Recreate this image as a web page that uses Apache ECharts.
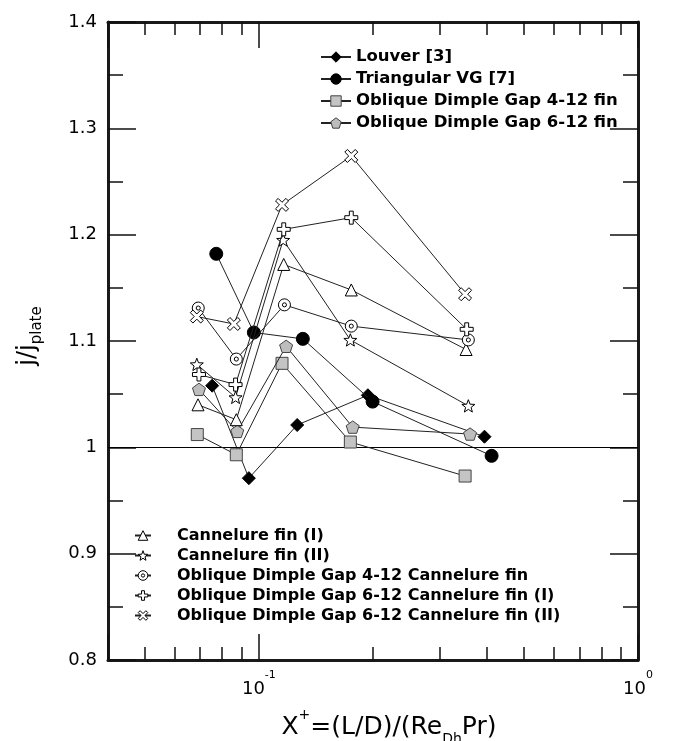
<!DOCTYPE html>
<html>
<head>
<meta charset="utf-8">
<script src="https://cdn.jsdelivr.net/npm/echarts@6/dist/echarts.min.js"></script>
<style>
html,body{margin:0;padding:0;background:#fff;}
#chart{width:673px;height:741px;}
</style>
</head>
<body>
<div id="chart"></div>
<script>
// ---- Data ----
const louverX = [0.0753, 0.0941, 0.1262, 0.1939, 0.3936];
const louverY = [1.058, 0.971, 1.021, 1.049, 1.010];
const triVGX = [0.0772, 0.0970, 0.1306, 0.1995, 0.411];
const triVGY = [1.182, 1.108, 1.102, 1.043, 0.992];
const gap412X = [0.0688, 0.0872, 0.1151, 0.1743, 0.3499];
const gap412Y = [1.012, 0.993, 1.079, 1.005, 0.973];
const gap612X = [0.0695, 0.0877, 0.1180, 0.1768, 0.3606];
const gap612Y = [1.0545, 1.015, 1.095, 1.019, 1.0125];
const cannIX = [0.0691, 0.0872, 0.1163, 0.1753, 0.3520];
const cannIY = [1.040, 1.026, 1.172, 1.148, 1.092];
const cannIIX = [0.0686, 0.0868, 0.1159, 0.1743, 0.3569];
const cannIIY = [1.078, 1.047, 1.195, 1.101, 1.039];
const gap412CX = [0.0692, 0.0872, 0.1168, 0.1753, 0.3569];
const gap412CY = [1.131, 1.083, 1.134, 1.114, 1.101];
const gap612CIX = [0.0695, 0.0868, 0.1163, 0.1753, 0.3533];
const gap612CIY = [1.0685, 1.059, 1.205, 1.216, 1.111];
const gap612CIIX = [0.0686, 0.0859, 0.1151, 0.1753, 0.3499];
const gap612CIIY = [1.123, 1.116, 1.228, 1.274, 1.144];

const seriesNames = [
  'Louver [3]',
  'Triangular VG [7]',
  'Oblique Dimple Gap 4-12 fin',
  'Oblique Dimple Gap 6-12 fin',
  'Cannelure fin (I)',
  'Cannelure fin (II)',
  'Oblique Dimple Gap 4-12 Cannelure fin',
  'Oblique Dimple Gap 6-12 Cannelure fin (I)',
  'Oblique Dimple Gap 6-12 Cannelure fin (II)'
];
const xMin = 0.04, xMax = 1;
const yMin = 0.8, yMax = 1.4, yStep = 0.1;
const xTickLabels = [{value: 0.1, base: '10', exp: '-1'}, {value: 1, base: '10', exp: '0'}];
const refLineY = 1;

function pairs(xs, ys) { return xs.map((x, i) => [x, ys[i]]); }

const PENTAGON = 'path://M50,0 L97.55,34.55 L79.39,90.45 L20.61,90.45 L2.45,34.55 Z';
const STAR = 'path://M50,0 L62.34,33.01 L97.55,34.55 L69.97,56.49 L79.39,90.45 L50,71 L20.61,90.45 L30.03,56.49 L2.45,34.55 L37.66,33.01 Z';
const PLUS = 'path://M35,0 L65,0 L65,35 L100,35 L100,65 L65,65 L65,100 L35,100 L35,65 L0,65 L0,35 L35,35 Z';
const XSYM = 'path://M0,20 L20,0 L50,30 L80,0 L100,20 L70,50 L100,80 L80,100 L50,70 L20,100 L0,80 L30,50 Z';
const BULLSEYE = 'path://M50,0 A50,50 0 1,1 49.99,0 Z M50,33 A17,17 0 1,1 49.99,33 Z';

const LINE = {color: '#222', width: 1};
function mk(name, xs, ys, symbol, size, fill, border) {
  return {
    name: name, type: 'line', data: pairs(xs, ys),
    symbol: symbol, symbolSize: size, symbolKeepAspect: true, showSymbol: true,
    lineStyle: LINE,
    itemStyle: {color: fill, borderColor: border, borderWidth: 1, opacity: 1},
    emphasis: {disabled: true}, animation: false
  };
}

const series = [
  mk(seriesNames[0], louverX, louverY, 'diamond', 13, '#000', '#000'),
  mk(seriesNames[1], triVGX, triVGY, 'circle', 13, '#000', '#000'),
  mk(seriesNames[2], gap412X, gap412Y, 'rect', 12, '#c4c4c4', '#444'),
  mk(seriesNames[3], gap612X, gap612Y, PENTAGON, 13, '#bdbdbd', '#444'),
  mk(seriesNames[4], cannIX, cannIY, 'triangle', 12, '#fff', '#000'),
  mk(seriesNames[5], cannIIX, cannIIY, STAR, 13, '#fff', '#000'),
  mk(seriesNames[6], gap412CX, gap412CY, BULLSEYE, 12, '#fff', '#000'),
  mk(seriesNames[7], gap612CIX, gap612CIY, PLUS, 13, '#fff', '#000'),
  mk(seriesNames[8], gap612CIIX, gap612CIIY, XSYM, 13, '#fff', '#000')
];
series[0].markLine = {
  silent: true, symbol: ['none', 'none'], animation: false,
  label: {show: false},
  lineStyle: {color: '#000', width: 1, type: 'solid'},
  emphasis: {disabled: true},
  data: [{yAxis: refLineY}]
};
series.forEach((s, i) => { s.z = 3 + i; });

const AX = {color: '#1a1a1a', width: 3};
const TICK = {color: '#111', width: 1.5};
const NUMFONT = 'DejaVu Sans';

function xLabel(v) {
  for (const t of xTickLabels) {
    if (Math.abs(v - t.value) < 1e-9) return '{b|' + t.base + '}{s|' + t.exp + '}';
  }
  return '';
}

const option = {
  backgroundColor: '#fff',
  animation: false,
  grid: {left: 108, right: 35, top: 22, bottom: 81, containLabel: false, outerBoundsMode: 'none'},
  xAxis: [{
    type: 'log', logBase: 10, min: xMin, max: xMax, position: 'bottom',
    axisLine: {show: true, onZero: false, lineStyle: AX},
    axisTick: {show: true, inside: true, length: 26, lineStyle: TICK},
    minorTick: {show: true, splitNumber: 9, length: 13, lineStyle: TICK},
    splitLine: {show: false}, minorSplitLine: {show: false},
    axisLabel: {
      show: true, margin: 10, formatter: xLabel, showMinLabel: true, showMaxLabel: true,
      rich: {
        b: {fontFamily: NUMFONT, fontSize: 18, lineHeight: 38, color: '#000'},
        s: {fontFamily: NUMFONT, fontSize: 11, lineHeight: 11, verticalAlign: 'top', color: '#000'}
      }
    },
    name: 'X{sup|+}=(L/D)/(Re{sub|Dh}Pr)',
    nameLocation: 'middle', nameGap: 48,
    nameTextStyle: {
      fontFamily: NUMFONT, fontSize: 25, color: '#000', padding: [0, 0, 0, 32],
      rich: {
        sup: {fontFamily: NUMFONT, fontSize: 14, lineHeight: 14, verticalAlign: 'top', color: '#000'},
        sub: {fontFamily: NUMFONT, fontSize: 14, lineHeight: 20, verticalAlign: 'bottom', color: '#000'}
      },
      lineHeight: 38
    }
  }, {
    type: 'log', logBase: 10, min: xMin, max: xMax, position: 'top',
    axisLine: {show: true, onZero: false, lineStyle: AX},
    axisTick: {show: true, inside: true, length: 26, lineStyle: TICK},
    minorTick: {show: true, splitNumber: 9, length: 13, lineStyle: TICK},
    splitLine: {show: false}, axisLabel: {show: false}
  }],
  yAxis: [{
    type: 'value', min: yMin, max: yMax, interval: yStep, position: 'left',
    axisLine: {show: true, onZero: false, lineStyle: AX},
    axisTick: {show: true, inside: true, length: 28, lineStyle: TICK},
    minorTick: {show: true, splitNumber: 2, length: 15, lineStyle: TICK},
    splitLine: {show: false},
    axisLabel: {show: true, margin: 11, fontFamily: NUMFONT, fontSize: 18, color: '#000'},
    name: 'j/j{sub|plate}', nameLocation: 'middle', nameGap: 63, nameRotate: 90,
    nameTextStyle: {
      fontFamily: NUMFONT, fontSize: 24, color: '#000', lineHeight: 34, padding: [0, 0, 0, 10],
      rich: {sub: {fontFamily: NUMFONT, fontSize: 15, lineHeight: 20, verticalAlign: 'bottom', color: '#000'}}
    }
  }, {
    type: 'value', min: yMin, max: yMax, interval: yStep, position: 'right',
    axisLine: {show: true, onZero: false, lineStyle: AX},
    axisTick: {show: true, inside: true, length: 28, lineStyle: TICK},
    minorTick: {show: true, splitNumber: 2, length: 15, lineStyle: TICK},
    splitLine: {show: false}, axisLabel: {show: false}
  }],
  legend: [{
    data: seriesNames.slice(0, 4), orient: 'vertical', left: 315, top: 43,
    itemWidth: 30, itemHeight: 13, itemGap: 4, selectedMode: false,
    itemStyle: {borderWidth: 1},
    textStyle: {fontFamily: NUMFONT, fontWeight: 'bold', fontSize: 16.5, color: '#000', lineHeight: 18}
  }, {
    data: seriesNames.slice(4), orient: 'vertical', left: 129, top: 522,
    itemWidth: 16, itemHeight: 12, itemGap: 3, selectedMode: false,
    itemStyle: {borderWidth: 1},
    textStyle: {fontFamily: NUMFONT, fontWeight: 'bold', fontSize: 16, color: '#000', lineHeight: 17, padding: [0, 0, 0, 21]}
  }],
  series: series
};

const chart = echarts.init(document.getElementById('chart'), null, {renderer: 'canvas'});
chart.setOption(option);
</script>
</body>
</html>
